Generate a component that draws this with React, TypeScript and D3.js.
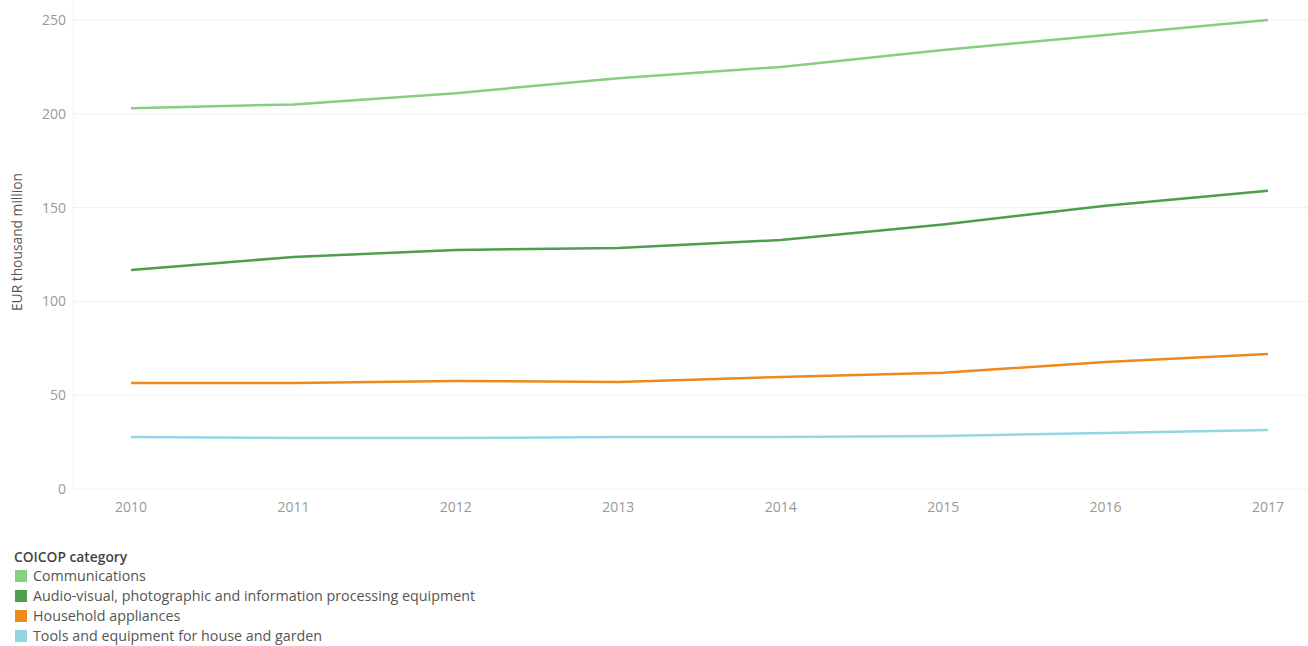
import React from "react";
import * as d3 from "d3";

const years = [2010, 2011, 2012, 2013, 2014, 2015, 2016, 2017];
const communications = [203, 205, 211, 219, 225, 234, 242, 250];
const audioVisual = [116.7, 123.7, 127.4, 128.5, 132.7, 141, 151, 159];
const household = [56.5, 56.5, 57.6, 57, 59.7, 62, 67.7, 72];
const tools = [27.7, 27.2, 27.2, 27.7, 27.7, 28.3, 29.9, 31.5];
const yTicks = [0, 50, 100, 150, 200, 250];

const seriesNames = [
  "Communications",
  "Audio-visual, photographic and information processing equipment",
  "Household appliances",
  "Tools and equipment for house and garden",
];
const seriesValues = [communications, audioVisual, household, tools];
const seriesColors = ["#86cf7e", "#4e9e4a", "#ee8a1c", "#93d5e1"];

const W = 1308;
const H = 646;
const FONT = "'Open Sans', 'Noto Sans', sans-serif";

export default function App() {
  const x = d3.scalePoint<number>().domain(years).range([131, 1268]);
  const y = d3.scaleLinear().domain([0, 250]).range([489, 20]);
  const line = d3
    .line<number>()
    .x((_, i) => x(years[i]) as number)
    .y((v) => y(v));

  return (
    <svg
      width={W}
      height={H}
      style={{ position: "absolute", left: 0, top: 0, background: "#fff" }}
      fontFamily={FONT}
    >
      {yTicks.map((t) => (
        <g key={t}>
          <line x1={73} x2={W} y1={y(t)} y2={y(t)} stroke="#f0f0f0" strokeWidth={1} />
          <text x={66} y={y(t)} dy="0.35em" textAnchor="end" fontSize={14} fill="#999">
            {t}
          </text>
        </g>
      ))}
      <line x1={73.5} x2={73.5} y1={0} y2={489} stroke="#f3f3f3" strokeWidth={1} />
      {years.map((yr) => (
        <text key={yr} x={x(yr)} y={507} dy="0.35em" textAnchor="middle" fontSize={14} fill="#999">
          {yr}
        </text>
      ))}
      <text
        transform={`translate(22,242) rotate(-90)`}
        textAnchor="middle"
        fontSize={13.8}
        fill="#555"
        fontWeight={500}
      >
        EUR thousand million
      </text>
      {seriesValues.map((vals, i) => (
        <path
          key={i}
          d={line(vals) || ""}
          fill="none"
          stroke={seriesColors[i]}
          strokeWidth={2.5}
          strokeLinejoin="round"
        />
      ))}
      <text x={14} y={557} dy="0.35em" fontSize={13.8} fill="#444" fontWeight={600}>
        COICOP category
      </text>
      {seriesNames.map((n, i) => (
        <g key={n}>
          <rect x={15} y={570 + i * 20} width={12} height={12} fill={seriesColors[i]} />
          <text x={33} y={576 + i * 20} dy="0.35em" fontSize={14.3} fill="#555">
            {n}
          </text>
        </g>
      ))}
    </svg>
  );
}
